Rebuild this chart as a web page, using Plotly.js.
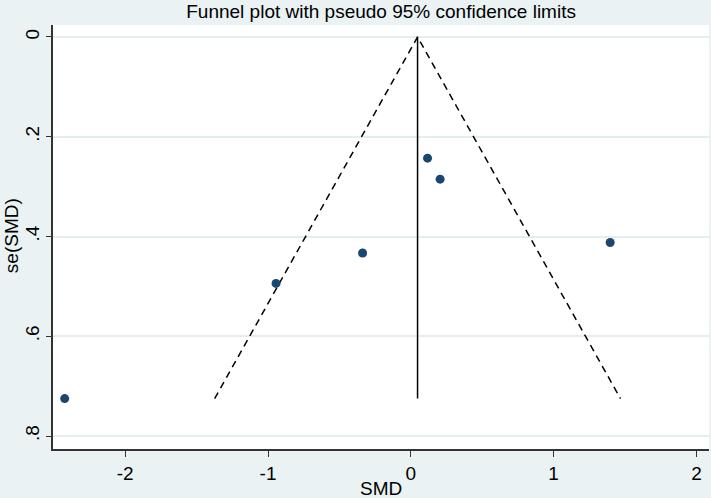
<!DOCTYPE html>
<html>
<head>
<meta charset="utf-8">
<script src="https://cdn.plot.ly/plotly-3.0.1.min.js"></script>
<style>
  html, body { margin: 0; padding: 0; background: #eaf2f3; }
  #chart { width: 711px; height: 498px; }
</style>
</head>
<body>
<div id="chart"></div>
<script>
// study effects and standard errors
const smd = [-2.424, -0.944, -0.338, 0.117, 0.205, 1.396];
const seSmd = [0.725, 0.494, 0.433, 0.243, 0.285, 0.412];
const pooled = 0.047;

const xTicks = [-2, -1, 0, 1, 2];
const xTickText = ["-2", "-1", "0", "1", "2"];
const yTicks = [0, 0.2, 0.4, 0.6, 0.8];
const yTickText = ["0", ".2", ".4", ".6", ".8"];

const seMax = Math.max(...seSmd);

const data = [
  {
    // pseudo 95% limits
    x: [pooled - 1.96 * seMax, pooled, pooled + 1.96 * seMax],
    y: [seMax, 0, seMax],
    mode: "lines",
    line: { color: "#000000", width: 1.5, dash: "7px,5px" },
    hoverinfo: "skip",
  },
  {
    x: [pooled, pooled],
    y: [0, seMax],
    mode: "lines",
    line: { color: "#000000", width: 1.5 },
    hoverinfo: "skip",
  },
  {
    x: smd,
    y: seSmd,
    mode: "markers",
    marker: { color: "#1a476f", size: 9 },
  },
];

const layout = {
  width: 711,
  height: 498,
  showlegend: false,
  paper_bgcolor: "#eaf2f3",
  plot_bgcolor: "#ffffff",
  margin: { l: 52.5, r: 2, t: 25, b: 49 },
  font: { family: "Arial, Liberation Sans, sans-serif", size: 19, color: "#000000" },
  title: {
    text: "Funnel plot with pseudo 95% confidence limits",
    x: 0.536,
    xanchor: "center",
    y: 0.977,
    yanchor: "middle",
    font: { size: 19 },
  },
  xaxis: {
    range: [-2.506, 2.088],
    tickvals: xTicks,
    ticktext: xTickText,
    tickfont: { size: 19 },
    ticks: "outside",
    ticklen: 6,
    tickcolor: "#333333",
    showgrid: false,
    zeroline: false,
    showline: true,
    linecolor: "#333333",
    linewidth: 1.5,
    automargin: false,
  },
  yaxis: {
    range: [0.826, -0.024],
    tickvals: yTicks,
    ticktext: yTickText,
    tickfont: { size: 19 },
    tickangle: -90,
    ticks: "outside",
    ticklen: 5,
    tickcolor: "#333333",
    showgrid: true,
    gridcolor: "#e4eeef",
    gridwidth: 1.5,
    zeroline: false,
    showline: true,
    linecolor: "#333333",
    linewidth: 1.5,
    automargin: false,
  },
  // axis titles placed by hand
  annotations: [
    {
      text: "SMD",
      xref: "paper", yref: "paper",
      x: 0.5, y: -0.094,
      xanchor: "center", yanchor: "middle",
      showarrow: false,
      font: { size: 19 },
    },
    {
      text: "se(SMD)",
      xref: "paper", yref: "paper",
      x: -0.064, y: 0.502,
      xanchor: "center", yanchor: "middle",
      textangle: -90,
      showarrow: false,
      font: { size: 19 },
    },
  ],
};

Plotly.newPlot("chart", data, layout, { displayModeBar: false });
</script>
</body>
</html>
